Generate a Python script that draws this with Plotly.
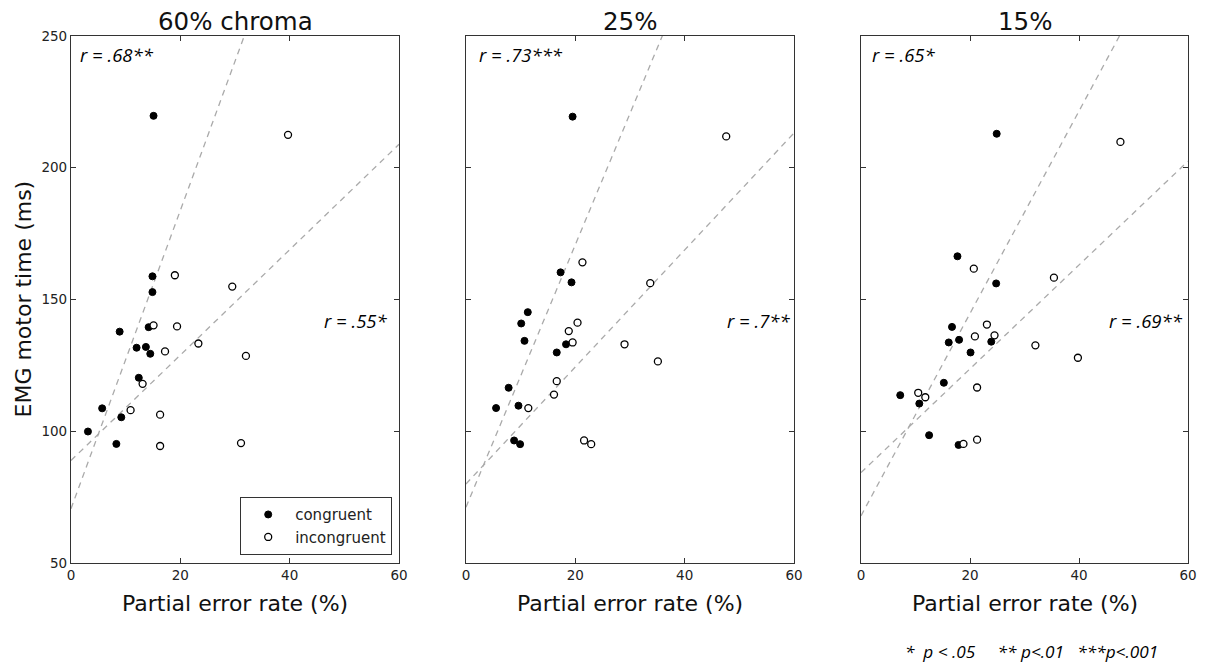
import plotly.graph_objects as go

# ---------------- data ----------------
panel_titles = ["60% chroma", "25%", "15%"]

cong_x_60 = [15.1, 14.9, 14.9, 8.9, 14.2, 12.0, 13.7, 14.5, 12.4, 5.7, 9.2, 3.1, 8.3]
cong_y_60 = [219.7, 158.8, 152.8, 137.8, 139.5, 131.7, 132.0, 129.4, 120.3, 108.7, 105.3, 99.9, 95.2]
incg_x_60 = [39.7, 19.0, 29.5, 15.1, 19.4, 23.3, 32.0, 17.2, 13.1, 10.9, 16.3, 16.3, 31.1]
incg_y_60 = [212.5, 159.2, 154.9, 140.2, 139.8, 133.3, 128.6, 130.3, 118.0, 108.0, 106.3, 94.4, 95.5]

cong_x_25 = [19.5, 17.3, 19.3, 11.3, 10.1, 10.7, 18.3, 16.6, 7.8, 5.5, 9.6, 8.8, 9.9]
cong_y_25 = [219.4, 160.3, 156.5, 145.2, 140.9, 134.3, 133.0, 129.9, 116.5, 108.8, 109.7, 96.5, 95.1]
incg_x_25 = [47.6, 21.3, 33.7, 20.4, 18.8, 19.5, 29.0, 35.1, 16.6, 16.1, 11.4, 21.6, 22.9]
incg_y_25 = [211.9, 164.1, 156.2, 141.2, 138.0, 133.7, 133.0, 126.5, 119.0, 113.9, 108.8, 96.5, 95.1]

cong_x_15 = [24.9, 17.7, 24.8, 16.7, 16.1, 18.0, 23.9, 20.1, 15.2, 7.2, 10.7, 12.5, 17.9]
cong_y_15 = [212.9, 166.4, 156.1, 139.6, 133.7, 134.7, 134.0, 129.9, 118.4, 113.7, 110.5, 98.5, 94.8]
incg_x_15 = [47.6, 20.7, 35.4, 23.1, 20.9, 24.5, 32.0, 39.8, 21.3, 10.5, 11.8, 18.8, 21.3]
incg_y_15 = [209.8, 161.7, 158.3, 140.5, 136.0, 136.4, 132.6, 127.9, 116.6, 114.6, 112.9, 95.2, 96.8]

# regression lines (intercept, slope)
cong_fit_intercept = [70.6, 71.2, 67.9]
cong_fit_slope = [5.66, 4.98, 3.84]
incg_fit_intercept = [88.9, 80.0, 84.3]
incg_fit_slope = [2.00, 2.22, 1.97]

cong_r_labels = ["r = .68**", "r = .73***", "r = .65*"]
incg_r_labels = ["r = .55*", "r = .7**", "r = .69**"]

x_ticks = [0, 20, 40, 60]
y_ticks = [50, 100, 150, 200, 250]
x_range = [0, 60]
y_range = [50, 250]

footnote = "*  p < .05     ** p<.01   ***p<.001"

# ---------------- figure ----------------
W, H = 1207, 662
OX, OY = 8, 8  # page body margin


def px(x):
    return (x - OX) / W


def py(y):
    return 1 - (y - OY) / H


cong_x = [cong_x_60, cong_x_25, cong_x_15]
cong_y = [cong_y_60, cong_y_25, cong_y_15]
incg_x = [incg_x_60, incg_x_25, incg_x_15]
incg_y = [incg_y_60, incg_y_25, incg_y_15]

x_domains = [[px(71), px(399)], [px(466), px(794)], [px(861), px(1188)]]
y_domain = [py(563), py(36)]

FONT = "DejaVu Sans"
IT_FONT = "Open Sans"

fig = go.Figure()
line_style = dict(color="#aaaaaa", width=1.3, dash="6px,5px")

for i in range(3):
    xa = "x" if i == 0 else f"x{i+1}"
    ya = "y" if i == 0 else f"y{i+1}"
    for b0, b1 in [(cong_fit_intercept[i], cong_fit_slope[i]),
                   (incg_fit_intercept[i], incg_fit_slope[i])]:
        fig.add_trace(go.Scatter(
            x=x_range, y=[b0 + b1 * x_range[0], b0 + b1 * x_range[1]],
            mode="lines", line=line_style, showlegend=False,
            hoverinfo="skip", xaxis=xa, yaxis=ya))
    fig.add_trace(go.Scatter(
        x=cong_x[i], y=cong_y[i], mode="markers", name="congruent",
        marker=dict(color="black", size=7, line=dict(color="black", width=1)),
        showlegend=(i == 0), legendrank=1, xaxis=xa, yaxis=ya))
    fig.add_trace(go.Scatter(
        x=incg_x[i], y=incg_y[i], mode="markers", name="incongruent",
        marker=dict(color="white", size=7, line=dict(color="black", width=1.3)),
        showlegend=(i == 0), legendrank=2, xaxis=xa, yaxis=ya))

axis_common = dict(
    showgrid=False, zeroline=False, showline=True,
    linecolor="#333333", linewidth=1.2, mirror="ticks", ticks="inside",
    ticklen=5, tickwidth=1, tickcolor="#333333", automargin=False,
    tickfont=dict(family=FONT, size=13.5, color="#222222"),
)

layout = dict(
    width=W, height=H, margin=dict(l=0, r=0, t=0, b=0),
    plot_bgcolor="white", paper_bgcolor="white",
    font=dict(family=FONT, color="#222222"),
    legend=dict(
        x=px(392), y=py(555), xanchor="right", yanchor="bottom",
        bordercolor="#333333", borderwidth=1.2, bgcolor="white",
        font=dict(family=FONT, size=15, color="#222222"),
        itemwidth=44, tracegroupgap=0,
    ),
)
for i in range(3):
    xk = "xaxis" if i == 0 else f"xaxis{i+1}"
    yk = "yaxis" if i == 0 else f"yaxis{i+1}"
    ya = "y" if i == 0 else f"y{i+1}"
    xa = "x" if i == 0 else f"x{i+1}"
    ax = dict(axis_common)
    ax.update(domain=x_domains[i], range=x_range, tickvals=x_ticks,
              ticktext=[str(v) for v in x_ticks], anchor=ya)
    layout[xk] = ax
    ay = dict(axis_common)
    ay.update(domain=y_domain, range=y_range, tickvals=y_ticks,
              ticktext=[str(v) for v in y_ticks], anchor=xa,
              showticklabels=(i == 0))
    layout[yk] = ay
fig.update_layout(**layout)

annotations = []
for i in range(3):
    cx = (x_domains[i][0] + x_domains[i][1]) / 2
    annotations.append(dict(
        text=panel_titles[i], x=cx, y=py(21), xref="paper", yref="paper",
        xanchor="center", yanchor="middle", showarrow=False,
        font=dict(family=FONT, size=24.5, color="#111111")))
    annotations.append(dict(
        text="Partial error rate (%)", x=cx, y=py(603), xref="paper", yref="paper",
        xanchor="center", yanchor="middle", showarrow=False,
        font=dict(family=FONT, size=22, color="#111111")))
    xa = "x" if i == 0 else f"x{i+1}"
    ya = "y" if i == 0 else f"y{i+1}"
    annotations.append(dict(
        text=f"<i>{cong_r_labels[i]}</i>", x=[1.3, 2.0, 1.6][i], y=243,
        xref=xa, yref=ya, xanchor="left", yanchor="middle", showarrow=False,
        font=dict(family=IT_FONT, size=18.5, color="black")))
    annotations.append(dict(
        text=f"<i>{incg_r_labels[i]}</i>", x=[46.0, 47.3, 45.1][i], y=142,
        xref=xa, yref=ya, xanchor="left", yanchor="middle", showarrow=False,
        font=dict(family=IT_FONT, size=18.5, color="black")))

annotations.append(dict(
    text="EMG motor time (ms)", x=px(23), y=(y_domain[0] + y_domain[1]) / 2,
    xref="paper", yref="paper", xanchor="center", yanchor="middle",
    textangle=-90, showarrow=False,
    font=dict(family=FONT, size=22, color="#111111")))
annotations.append(dict(
    text=f"<i>{footnote}</i>", x=px(903), y=py(651), xref="paper", yref="paper",
    xanchor="left", yanchor="middle", showarrow=False,
    font=dict(family=IT_FONT, size=17.2, color="black")))
fig.update_layout(annotations=annotations)

fig.write_html("out.html")
